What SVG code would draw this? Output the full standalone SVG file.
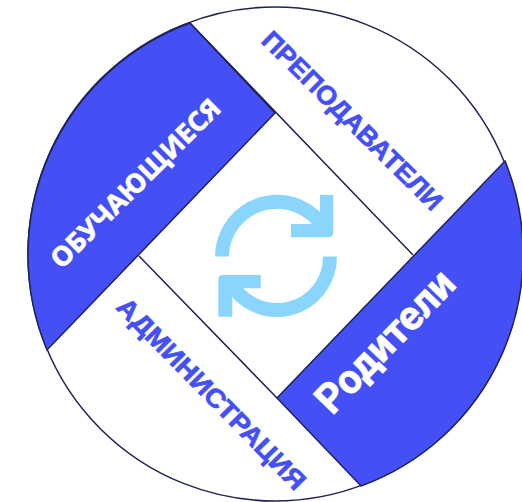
<svg xmlns="http://www.w3.org/2000/svg" width="522" height="502" viewBox="0 0 522 502">
<style>
.b{fill:#4450f5;stroke:#1f2257;stroke-width:1.5}
.l{fill:none;stroke:#1f2257;stroke-width:1.5}
.t{font-weight:700;text-anchor:middle;stroke-width:.7}
.o{font-family:"Open Sans","Noto Sans",sans-serif}
.a{font-family:"Liberation Sans",Arial,sans-serif}
.r{font-family:Roboto,"Liberation Sans",sans-serif}
.w{fill:#fff;stroke:#fff}.u{fill:#4450f5;stroke:#4450f5}
.i{fill:none;stroke:#89d5fe;stroke-width:14}.h{fill:#89d5fe}
</style>
<rect width="522" height="502" fill="#fff"/>
<g id="connectors">
<circle class="l" cx="275" cy="254" r="247"/>
<path class="l" d="M190 23L413 255M139 256L277 398"/>
</g>
<g id="obuchayushchiesya">
<path class="b" d="M190 23A247 247 0 0 0 47 350L275 113Z"/>
<text class="t o w" font-size="26.500" textLength="227" lengthAdjust="spacingAndGlyphs" transform="translate(142 190) rotate(-44.8)">ОБУЧАЮЩИЕСЯ</text>
</g>
<g id="prepodavateli">
<text class="t a u" font-size="26" textLength="242" lengthAdjust="spacingAndGlyphs" transform="translate(346 127) rotate(44.7)">ПРЕПОДАВАТЕЛИ</text>
</g>
<g id="administratsiya">
<text class="t a u" font-size="26" textLength="257" lengthAdjust="spacingAndGlyphs" transform="translate(205 400) rotate(45.500)">АДМИНИСТРАЦИЯ</text>
</g>
<g id="roditeli">
<path class="b" d="M505 161A247 247 0 0 1 361 486L277 398Z"/>
<text class="t r w" font-size="41" textLength="181" lengthAdjust="spacingAndGlyphs" transform="translate(395 351) rotate(-46)">Родители</text>
</g>
<g id="cycle-icon">
<path class="i" d="M222 256.500A55 55 0 0 1 325 230"/>
<path class="h" d="M320 195H333.300V232Q333.300 237.300 328 237.300H291V224H320Z"/>
<path class="i" d="M330 256.500A53 53 0 0 1 230 281.500"/>
<path class="h" d="M232.300 316.700H218.300V280Q218.300 275 223 275H260.700V288.300H232.300Z"/>
</g>
</svg>
